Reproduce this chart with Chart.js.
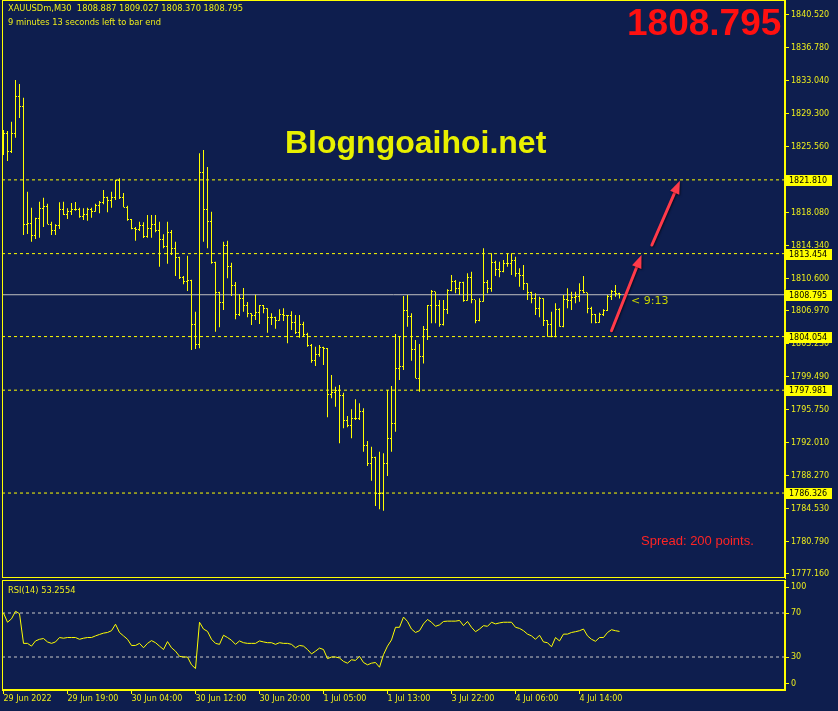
<!DOCTYPE html>
<html>
<head>
<meta charset="utf-8">
<script src="https://cdn.jsdelivr.net/npm/chart.js@4/dist/chart.umd.min.js"></script>
<style>
  body { margin:0; background:#0e1e4e; width:838px; height:711px; overflow:hidden; position:relative; font-family:"DejaVu Sans", sans-serif; }
  canvas { position:absolute; left:0; }
  #main { top:0; }
  #rsi { top:579px; }
  .t { position:absolute; white-space:nowrap; }
  .small { font-size:8.3px; line-height:10px; color:#ecec1c; }
</style>
</head>
<body>
<canvas id="main" width="838" height="579"></canvas>
<canvas id="rsi" width="838" height="132"></canvas>

<div class="t small" style="left:8px;top:3px">XAUUSDm,M30&nbsp; 1808.887 1809.027 1808.370 1808.795</div>
<div class="t small" style="left:8px;top:17px">9 minutes 13 seconds left to bar end</div>
<div class="t" style="left:627px;top:3px;font:bold 37px/40px 'Liberation Sans',Arial,sans-serif;color:#ff1010">1808.795</div>
<div class="t" style="left:285px;top:124px;font:bold 32px/36px 'Liberation Sans',Arial,sans-serif;color:#e8f000">Blogngoaihoi.net</div>
<div class="t" style="left:641px;top:533px;font:13px/16px 'Liberation Sans',Arial,sans-serif;color:#ff2424">Spread: 200 points.</div>
<div class="t" style="left:631px;top:294px;font-size:11px;line-height:14px;color:#c8d400">&lt; 9:13</div>
<div class="t small" style="left:8px;top:585px">RSI(14) 53.2554</div>

<script>
// ---- data (XAUUSDm M30) ----
var opens = [1825.30,1827.12,1824.97,1827.01,1831.31,1830.07,1816.70,1816.92,1815.48,1817.38,
  1818.59,1818.77,1816.78,1816.10,1816.62,1818.48,1817.91,1818.28,1818.40,1818.48,
  1817.64,1817.94,1818.48,1818.25,1818.96,1819.30,1819.76,1819.50,1819.79,1821.76,
  1819.84,1818.70,1817.30,1816.28,1816.13,1816.66,1815.37,1816.32,1816.78,1816.10,
  1815.11,1814.24,1815.87,1814.01,1813.04,1810.77,1810.35,1810.39,1805.37,1803.21,
  1822.62,1818.40,1817.07,1812.43,1809.07,1807.89,1814.32,1812.05,1809.86,1806.61,
  1808.39,1807.52,1806.69,1806.39,1806.81,1807.52,1807.26,1806.24,1806.27,1805.90,
  1806.61,1806.39,1806.39,1805.63,1804.54,1805.45,1804.31,1802.99,1801.40,1802.08,
  1802.79,1802.65,1797.44,1797.74,1798.00,1797.36,1794.60,1793.96,1794.80,1794.80,
  1795.54,1791.66,1789.62,1790.38,1786.22,1786.30,1789.70,1792.53,1794.15,1800.46,
  1800.64,1806.99,1806.31,1802.61,1799.36,1801.80,1804.80,1807.52,1809.14,1807.63,
  1805.37,1807.15,1809.25,1810.27,1809.52,1810.16,1808.12,1810.77,1808.20,1805.85,
  1808.01,1810.16,1809.52,1812.43,1811.60,1811.40,1812.36,1812.36,1812.73,1811.15,
  1810.92,1810.09,1809.03,1808.39,1807.26,1808.39,1805.82,1805.37,1804.04,1807.07,
  1805.25,1808.28,1808.12,1808.50,1808.57,1809.25,1809.00,1807.26,1806.50,1805.63,
  1806.50,1806.99,1808.65,1809.14,1808.887];
var highs = [1827.46,1827.35,1828.40,1833.13,1832.67,1831.12,1820.47,1818.66,1817.52,1819.34,
  1819.79,1819.11,1817.07,1816.78,1819.27,1819.34,1818.59,1819.19,1819.30,1818.66,
  1818.59,1818.66,1818.66,1819.11,1819.42,1820.66,1819.90,1820.47,1821.83,1821.99,
  1820.32,1818.88,1817.38,1816.47,1817.07,1817.00,1817.83,1817.83,1817.83,1817.07,
  1815.64,1817.07,1816.13,1814.80,1813.11,1810.92,1813.22,1810.50,1806.87,1824.82,
  1825.19,1823.27,1818.20,1812.54,1809.14,1814.80,1814.92,1812.43,1810.24,1808.88,
  1809.56,1807.97,1806.69,1808.80,1807.63,1807.63,1807.26,1806.69,1806.31,1807.15,
  1807.26,1806.50,1806.92,1806.50,1806.50,1805.74,1804.49,1803.21,1802.91,1803.10,
  1802.91,1802.75,1799.70,1798.38,1798.57,1797.70,1795.06,1795.82,1796.95,1796.50,
  1795.93,1792.22,1791.58,1790.44,1791.01,1790.83,1798.00,1798.46,1804.35,1804.12,
  1808.65,1808.77,1806.69,1803.67,1803.20,1805.25,1807.63,1809.33,1809.14,1808.20,
  1808.20,1809.41,1811.03,1810.47,1810.27,1810.27,1811.22,1811.40,1808.20,1808.39,
  1814.06,1810.47,1813.49,1812.65,1812.54,1812.73,1813.49,1813.49,1813.11,1811.79,
  1812.17,1810.09,1809.14,1808.96,1808.57,1808.40,1805.93,1806.87,1807.82,1807.26,
  1808.77,1809.52,1809.14,1809.14,1810.09,1810.92,1809.03,1807.44,1806.61,1806.76,
  1807.15,1808.77,1809.33,1809.90,1809.027];
var lows = [1824.63,1823.95,1824.85,1826.59,1828.82,1815.56,1815.68,1814.80,1815.11,1815.26,
  1816.47,1816.78,1815.56,1815.56,1816.25,1817.83,1817.38,1817.83,1818.32,1817.52,
  1817.26,1817.18,1817.52,1818.20,1818.02,1819.04,1818.14,1818.66,1819.53,1819.64,
  1818.70,1817.18,1816.21,1814.92,1816.02,1815.22,1815.26,1815.26,1815.87,1811.97,
  1814.06,1812.31,1813.30,1810.92,1810.58,1809.98,1809.22,1802.53,1802.65,1802.73,
  1814.80,1814.06,1812.31,1804.61,1805.10,1807.07,1810.65,1808.65,1806.01,1806.39,
  1806.87,1806.24,1805.37,1805.93,1805.48,1806.69,1804.49,1805.37,1804.95,1805.85,
  1805.82,1803.29,1804.80,1804.35,1803.93,1804.04,1802.91,1801.10,1800.72,1801.78,
  1800.84,1794.91,1797.06,1796.11,1791.96,1793.66,1793.78,1792.53,1794.60,1794.60,
  1791.01,1789.39,1787.72,1784.86,1784.49,1784.33,1788.26,1791.01,1793.28,1799.13,
  1800.27,1805.17,1801.32,1799.33,1797.80,1801.00,1803.67,1805.56,1805.56,1805.17,
  1805.30,1806.61,1809.20,1808.96,1808.77,1808.01,1808.10,1807.82,1805.56,1805.80,
  1808.01,1808.96,1809.14,1810.92,1810.77,1811.35,1811.97,1811.03,1810.84,1809.71,
  1809.33,1808.20,1807.82,1806.50,1806.24,1805.25,1804.04,1803.97,1803.97,1805.17,
  1805.10,1807.26,1807.07,1807.82,1808.01,1808.96,1806.69,1805.56,1805.56,1805.63,
  1806.39,1806.95,1808.20,1808.57,1808.370];
var closes = [1827.12,1824.97,1827.01,1831.31,1830.07,1816.70,1816.92,1815.48,1817.38,1818.59,
  1818.77,1816.78,1816.10,1816.62,1818.48,1817.91,1818.28,1818.40,1818.48,1817.64,
  1817.94,1818.48,1818.25,1818.96,1819.30,1819.76,1819.50,1819.79,1821.76,1819.84,
  1818.70,1817.30,1816.28,1816.13,1816.66,1815.37,1816.32,1816.78,1816.10,1815.11,
  1814.24,1815.87,1814.01,1813.04,1810.77,1810.35,1810.39,1805.37,1803.21,1822.62,
  1818.40,1817.07,1812.43,1809.07,1807.89,1814.32,1812.05,1809.86,1806.61,1808.39,
  1807.52,1806.69,1806.39,1806.81,1807.52,1807.26,1806.24,1806.27,1805.90,1806.61,
  1806.39,1806.39,1805.63,1804.54,1805.45,1804.31,1802.99,1801.40,1802.08,1802.79,
  1802.65,1797.44,1797.74,1798.00,1797.36,1794.60,1793.96,1794.80,1794.80,1795.54,
  1791.66,1789.62,1790.38,1786.22,1786.30,1789.70,1792.53,1794.15,1800.46,1800.64,
  1806.99,1806.31,1802.61,1799.36,1801.80,1804.80,1807.52,1809.14,1807.63,1805.37,
  1807.15,1809.25,1810.27,1809.52,1810.16,1808.12,1810.77,1808.20,1805.85,1808.01,
  1810.16,1809.52,1812.43,1811.60,1811.40,1812.36,1812.36,1812.73,1811.15,1810.92,
  1810.09,1809.03,1808.39,1807.26,1808.39,1805.82,1805.37,1804.04,1807.07,1805.25,
  1808.28,1808.12,1808.50,1808.57,1809.25,1809.00,1807.26,1806.50,1805.63,1806.50,
  1806.99,1808.65,1809.14,1808.887,1808.795];
var rsi = [70.0,61.6,64.7,71.6,69.4,42.4,42.4,39.9,44.6,46.1,
  46.8,43.7,42.4,43.7,47.7,47.1,47.7,47.7,47.7,46.1,
  47.1,47.7,47.7,49.2,50.5,51.7,52.3,53.9,59.8,52.3,
  49.2,46.1,40.5,40.5,42.4,38.4,42.4,44.9,43.0,39.9,
  36.8,44.0,38.4,35.3,30.6,30.0,30.0,22.9,19.5,61.6,
  55.4,53.3,46.1,42.4,41.5,49.8,47.7,45.2,41.5,44.6,
  43.0,42.4,42.4,42.4,44.6,43.7,43.0,43.0,41.5,43.0,
  42.4,42.4,41.5,38.4,40.5,39.9,36.8,32.8,35.3,38.1,
  36.8,28.5,30.0,30.0,29.1,26.0,24.4,27.5,26.9,30.6,
  25.0,22.9,24.4,25.0,20.7,32.2,39.9,45.5,57.0,57.0,
  66.3,62.3,55.4,52.3,53.9,60.1,64.1,61.6,57.9,59.2,
  62.3,62.6,62.6,62.6,63.2,58.5,62.3,57.0,53.0,55.4,
  58.5,57.9,61.6,60.1,61.0,61.6,61.6,61.6,57.0,56.0,
  53.9,50.8,49.2,46.1,49.8,43.7,43.0,39.3,47.7,44.6,
  50.8,50.8,52.3,53.0,53.9,55.4,49.2,46.1,44.3,47.7,
  47.7,52.3,54.8,53.9,53.26];

var priceTicks = [1840.52,1836.78,1833.04,1829.30,1825.56,1821.82,1818.08,1814.34,1810.60,
  1806.97,1803.23,1799.49,1795.75,1792.01,1788.27,1784.53,1780.79,1777.16];
var levels = [1821.810, 1813.454, 1804.054, 1797.981, 1786.326];
var bidPrice = 1808.795;
var dateTickIdx = [0,16,32,48,64,80,96,112,128,144];
var dateLabels = ['29 Jun 2022','29 Jun 19:00','30 Jun 04:00','30 Jun 12:00','30 Jun 20:00',
  '1 Jul 05:00','1 Jul 13:00','3 Jul 22:00','4 Jul 06:00','4 Jul 14:00'];
var rsiLevels = [70, 30];
var rsiTickPos = [93.4, 70, 30, 5.7];
var rsiTickLabels = ['100','70','30','0'];
// arrows: [startIndex, startPrice, endIndex, endPrice]
var arrows = [[152.0, 1804.72, 159.5, 1813.30], [162.1, 1814.43, 169.1, 1821.70]];

// ---- look ----
var YEL = '#ffff00';
var AXISTXT = '#ecec1c';
var xMin = -0.375, xMax = 195.375;
Chart.defaults.font.family = 'DejaVu Sans';
Chart.defaults.font.size = 8;
Chart.defaults.color = AXISTXT;

function tickImg(side) {
  var c = document.createElement('canvas');
  c.width = 5; c.height = 1;
  var g = c.getContext('2d');
  g.fillStyle = YEL;
  g.fillRect(side == 'open' ? 1 : 3, 0, 1, 1);
  return c;
}

// no extra label room at the axis ends
function noPad(a) { a.paddingTop = 0; a.paddingBottom = 0; a.paddingLeft = 0; a.paddingRight = 0; }

var framePlugin = {
  id: 'frame',
  beforeDatasetsDraw: function (chart) { chart.ctx.imageSmoothingEnabled = false; },
  afterDraw: function (chart) {
    var a = chart.chartArea, ctx = chart.ctx;
    ctx.save();
    ctx.strokeStyle = YEL; ctx.lineWidth = 1;
    ctx.strokeRect(a.left + 0.5, a.top + 0.5, a.right - a.left - 1, a.bottom - a.top - 1);
    ctx.restore();
  }
};

var levelLabels = {
  id: 'levelLabels',
  afterDraw: function (chart) {
    var y = chart.scales.y, ctx = chart.ctx;
    ctx.save();
    ctx.font = '8px "DejaVu Sans"';
    ctx.textBaseline = 'middle';
    levels.concat([bidPrice]).forEach(function (v) {
      var py = Math.round(y.getPixelForValue(v));
      ctx.fillStyle = YEL;
      ctx.fillRect(785, py - 5, 47, 11);
      ctx.fillStyle = '#000000';
      ctx.fillText(v.toFixed(3), 789, py + 0.5);
    });
    ctx.restore();
  }
};

var arrowPlugin = {
  id: 'arrows',
  afterDatasetsDraw: function (chart) {
    var xs = chart.scales.x, ys = chart.scales.y, ctx = chart.ctx;
    ctx.save();
    ctx.strokeStyle = '#ff3a4a'; ctx.fillStyle = '#ff3a4a';
    ctx.lineWidth = 3; ctx.lineCap = 'round';
    ctx.shadowColor = 'rgba(0,0,0,0.55)'; ctx.shadowOffsetX = 1; ctx.shadowOffsetY = 1; ctx.shadowBlur = 2;
    arrows.forEach(function (ar) {
      var x1 = xs.getPixelForValue(ar[0]), y1 = ys.getPixelForValue(ar[1]);
      var x2 = xs.getPixelForValue(ar[2]), y2 = ys.getPixelForValue(ar[3]);
      var a = Math.atan2(y2 - y1, x2 - x1), hl = 13, hw = 5;
      ctx.beginPath();
      ctx.moveTo(x1, y1);
      ctx.lineTo(x2 - Math.cos(a) * hl * 0.7, y2 - Math.sin(a) * hl * 0.7);
      ctx.stroke();
      ctx.beginPath();
      ctx.moveTo(x2, y2);
      ctx.lineTo(x2 - hl * Math.cos(a) + hw * Math.sin(a), y2 - hl * Math.sin(a) - hw * Math.cos(a));
      ctx.lineTo(x2 - hl * Math.cos(a) - hw * Math.sin(a), y2 - hl * Math.sin(a) + hw * Math.cos(a));
      ctx.closePath();
      ctx.fill();
    });
    ctx.restore();
  }
};

function hline(v, color, dash) {
  return { type: 'line', data: [{ x: xMin, y: v }, { x: xMax, y: v }], borderColor: color,
    borderWidth: 1, borderDash: dash, pointRadius: 0 };
}

var mainSets = [
  { type: 'bar', data: highs.map(function (h, i) { return { x: i, y: [lows[i], h] }; }),
    backgroundColor: YEL, barThickness: 1, inflateAmount: 0, borderWidth: 0 },
  { type: 'scatter', data: opens.map(function (o, i) { return { x: i, y: o }; }),
    pointStyle: tickImg('open'), radius: 2 },
  { type: 'scatter', data: closes.map(function (c, i) { return { x: i, y: c }; }),
    pointStyle: tickImg('close'), radius: 2 },
  hline(bidPrice, '#c0c0c0', [])
].concat(levels.map(function (v) { return hline(v, YEL, [3, 3]); }));

var rel1 = new Chart(document.getElementById('main'), {
  type: 'bar',
  data: { datasets: mainSets },
  options: {
    responsive: false, animation: false, events: [],
    layout: { autoPadding: false, padding: { left: 2, top: 0, right: 0, bottom: 1 } },
    plugins: { legend: { display: false }, tooltip: { enabled: false } },
    scales: {
      x: { type: 'linear', min: xMin, max: xMax, offset: false, display: false, grid: { offset: false } },
      y: {
        position: 'right', min: 1776.70, max: 1842.19,
        afterFit: function (a) { a.width = 53; noPad(a); },
        afterBuildTicks: function (a) { a.ticks = priceTicks.map(function (v) { return { value: v }; }); },
        ticks: { callback: function (v) { return v.toFixed(3); }, padding: 2, autoSkip: false, color: AXISTXT },
        grid: { drawOnChartArea: false, color: YEL, tickLength: 4 },
        border: { color: YEL }
      }
    }
  },
  plugins: [framePlugin, arrowPlugin, levelLabels]
});

var rsiSets = [
  { data: rsi.map(function (v, i) { return { x: i, y: v }; }), borderColor: YEL, borderWidth: 1, pointRadius: 0, tension: 0 }
].concat(rsiLevels.map(function (v) { return hline(v, '#c8c8c8', [3, 3]); }));

var rel2 = new Chart(document.getElementById('rsi'), {
  type: 'line',
  data: { datasets: rsiSets },
  options: {
    responsive: false, animation: false, events: [],
    layout: { autoPadding: false, padding: { left: 2, top: 1, right: 0, bottom: 0 } },
    plugins: { legend: { display: false }, tooltip: { enabled: false } },
    scales: {
      x: {
        type: 'linear', min: xMin, max: xMax, offset: false,
        afterFit: function (a) { a.height = 21; noPad(a); },
        afterBuildTicks: function (a) { a.ticks = dateTickIdx.map(function (v) { return { value: v }; }); },
        ticks: { callback: function (v) { return dateLabels[dateTickIdx.indexOf(v)]; },
          align: 'start', maxRotation: 0, autoSkip: false, padding: 0, color: AXISTXT },
        grid: { drawOnChartArea: false, color: YEL, tickLength: 4 },
        border: { color: YEL }
      },
      y: {
        position: 'right', min: 0, max: 100,
        afterFit: function (a) { a.width = 53; noPad(a); },
        afterBuildTicks: function (a) { a.ticks = rsiTickPos.map(function (v) { return { value: v }; }); },
        ticks: { callback: function (v) { return rsiTickLabels[rsiTickPos.indexOf(v)]; }, padding: 2, autoSkip: false, color: AXISTXT },
        grid: { drawOnChartArea: false, color: YEL, tickLength: 4 },
        border: { color: YEL }
      }
    }
  },
  plugins: [framePlugin]
});
</script>
</body>
</html>
